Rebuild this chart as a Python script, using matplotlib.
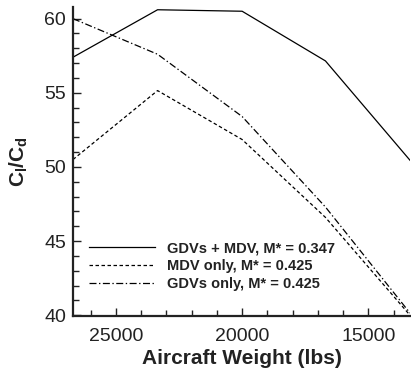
import matplotlib
matplotlib.use("Agg")
import matplotlib.pyplot as plt
from matplotlib.ticker import MultipleLocator

plt.rcParams['font.family'] = ['Liberation Sans', 'DejaVu Sans']
plt.rcParams['mathtext.fontset'] = 'custom'
plt.rcParams['mathtext.rm'] = 'Liberation Sans'
plt.rcParams['mathtext.bf'] = 'Liberation Sans:bold'
plt.rcParams['mathtext.it'] = 'Liberation Sans:italic'

weight = [26700, 23350, 20000, 16700, 13350]
gdv_mdv = [57.4, 60.6, 60.5, 57.15, 50.45]
mdv_only = [50.5, 55.15, 51.85, 46.6, 40.0]
gdv_only = [60.0, 57.6, 53.4, 47.3, 40.15]

labels = ["GDVs + MDV, M* = 0.347", "MDV only, M* = 0.425", "GDVs only, M* = 0.425"]

fig = plt.figure(figsize=(4.11, 3.69), dpi=100)
ax = fig.add_axes([0.1776, 0.1436, 0.82, 0.838])

ax.plot(weight, gdv_mdv, color='black', lw=0.9, ls='-', label=labels[0])
ax.plot(weight, mdv_only, color='black', lw=0.9, ls=(0, (2.8, 2.0)), label=labels[1])
ax.plot(weight, gdv_only, color='black', lw=0.9, ls=(0, (5.6, 2, 1.1, 2)), label=labels[2])

ax.set_xlim(26700, 13350)
ax.set_ylim(39.95, 60.8)

ax.xaxis.set_major_locator(MultipleLocator(5000))
ax.xaxis.set_minor_locator(MultipleLocator(1000))
ax.yaxis.set_major_locator(MultipleLocator(5))
ax.yaxis.set_minor_locator(MultipleLocator(1))
ax.tick_params(which='both', direction='in', labelsize=14, width=1, colors='#222222')
ax.tick_params(axis='y', which='both', pad=5)
ax.tick_params(axis='x', which='both', pad=8.5)
ax.tick_params(which='major', length=6)
ax.tick_params(which='minor', length=4)

for s in ['top', 'right']:
    ax.spines[s].set_visible(False)
for s in ['left', 'bottom']:
    ax.spines[s].set_linewidth(1.6)
    ax.spines[s].set_color('#222222')

ax.set_xlabel('Aircraft Weight (lbs)', fontsize=15, fontweight='bold', labelpad=3,
              color='#222222')
ax.set_ylabel(r'$\mathbf{C_l/C_d}$', fontsize=15, labelpad=10, color='#222222')

leg = ax.legend(loc='upper left', bbox_to_anchor=(0.0475, 0.241), frameon=False,
                borderaxespad=0, borderpad=0,
                handlelength=4.5, handletextpad=0.82, labelspacing=0.26,
                prop={'size': 10.5, 'weight': 'bold'})
for t in leg.get_texts():
    t.set_color('#222222')

fig.savefig('out.png', dpi=100)
